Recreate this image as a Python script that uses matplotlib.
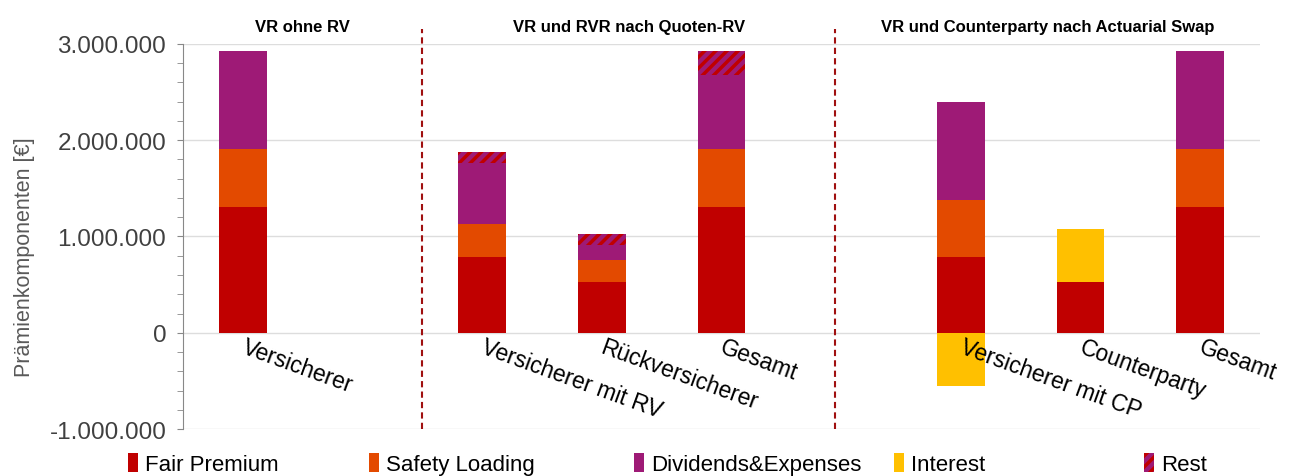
import numpy as np
import matplotlib.pyplot as plt
from matplotlib.ticker import FuncFormatter, MultipleLocator

plt.rcParams['font.family'] = ['Liberation Sans', 'DejaVu Sans']
plt.rcParams['hatch.linewidth'] = 2.5

# Kategorien (Positionen 1 und 5 bleiben leer)
kategorien = ['Versicherer', '', 'Versicherer mit RV', 'Rückversicherer', 'Gesamt',
              '', 'Versicherer mit CP', 'Counterparty', 'Gesamt']

fair = [1310000, 0, 790000, 530000, 1310000, 0, 790000, 530000, 1310000]
safety = [596000, 0, 344000, 230000, 596000, 0, 585000, 0, 596000]
divexp = [1024000, 0, 625000, 153000, 774000, 0, 1021000, 0, 1024000]
interest_pos = [0, 0, 0, 0, 0, 0, 0, 543000, 0]
interest_neg = [0, 0, 0, 0, 0, 0, -550000, 0, 0]
rest = [0, 0, 115000, 117000, 250000, 0, 0, 0, 0]

gruppen = ['VR ohne RV', 'VR und RVR nach Quoten-RV', 'VR und Counterparty nach Actuarial Swap']

c_fair = '#C00000'
c_safe = '#E34A00'
c_div = '#9E1A76'
c_int = '#FFC000'

fig = plt.figure(figsize=(12.94, 4.77), dpi=100)
ax = fig.add_axes([0.1414, 0.0985, 0.8323, 0.8072])

x = np.arange(len(kategorien))
w = 0.4
fair = np.array(fair)
safety = np.array(safety)
divexp = np.array(divexp)
b1 = ax.bar(x, fair, w, color=c_fair, label='Fair Premium', zorder=3)
b2 = ax.bar(x, safety, w, bottom=fair, color=c_safe, label='Safety Loading', zorder=3)
b3 = ax.bar(x, divexp, w, bottom=fair + safety, color=c_div, label='Dividends&Expenses', zorder=3)
b4 = ax.bar(x, interest_pos, w, bottom=fair + safety + divexp, color=c_int, label='Interest', zorder=3)
ax.bar(x, interest_neg, w, color=c_int, zorder=3)
b5 = ax.bar(x, rest, w, bottom=fair + safety + divexp, color=c_div, edgecolor=c_fair,
            hatch='///', linewidth=0, label='Rest', zorder=3)

ax.set_xlim(-0.5, 8.5)
ax.set_ylim(-1000000, 3000000)
ax.yaxis.set_major_locator(MultipleLocator(1000000))
ax.yaxis.set_minor_locator(MultipleLocator(200000))
ax.yaxis.set_major_formatter(FuncFormatter(lambda v, p: f'{int(v):,}'.replace(',', '.')))
ax.tick_params(axis='y', which='both', length=4, color='#888888', labelsize=17.5,
               labelcolor='#404040', pad=8)
ax.set_xticks([])
ax.grid(axis='y', color='#DDDDDD', linewidth=1, zorder=0)
for s in ['top', 'right', 'bottom']:
    ax.spines[s].set_visible(False)
ax.spines['left'].set_color('#888888')
ax.set_ylabel('Prämienkomponenten [€]', fontsize=15.5, color='#595959')
ax.yaxis.set_label_coords(-0.137, 0.45)

for i, k in enumerate(kategorien):
    if k:
        ax.text(i, -140000, k, rotation=-20, rotation_mode='anchor', ha='left', va='center',
                fontsize=16.5, color='black', zorder=4)

for xv in [1.5, 4.95]:
    ax.axvline(xv, ymin=0, ymax=1.04, color='#A01010', linestyle=(0, (3, 2)),
               linewidth=1.5, clip_on=False)

for xc, g in zip([0.5, 3.225, 6.725], gruppen):
    ax.text(xc, 1.045, g, transform=ax.get_xaxis_transform(), ha='center', va='center',
            fontsize=12, fontweight='bold')

# Legende: jeder Eintrag an seiner Stelle
leg_x = [128, 369, 634, 894, 1144]
for h, lx in zip([b1, b2, b3, b4, b5], leg_x):
    lg = fig.legend(handles=[h], loc='center left', bbox_to_anchor=(lx / 1294, 0.025),
                    frameon=False, fontsize=16, handlelength=0.45, handleheight=0.9,
                    handletextpad=0.3, borderaxespad=0, borderpad=0)

fig.savefig('out.png', dpi=100)
